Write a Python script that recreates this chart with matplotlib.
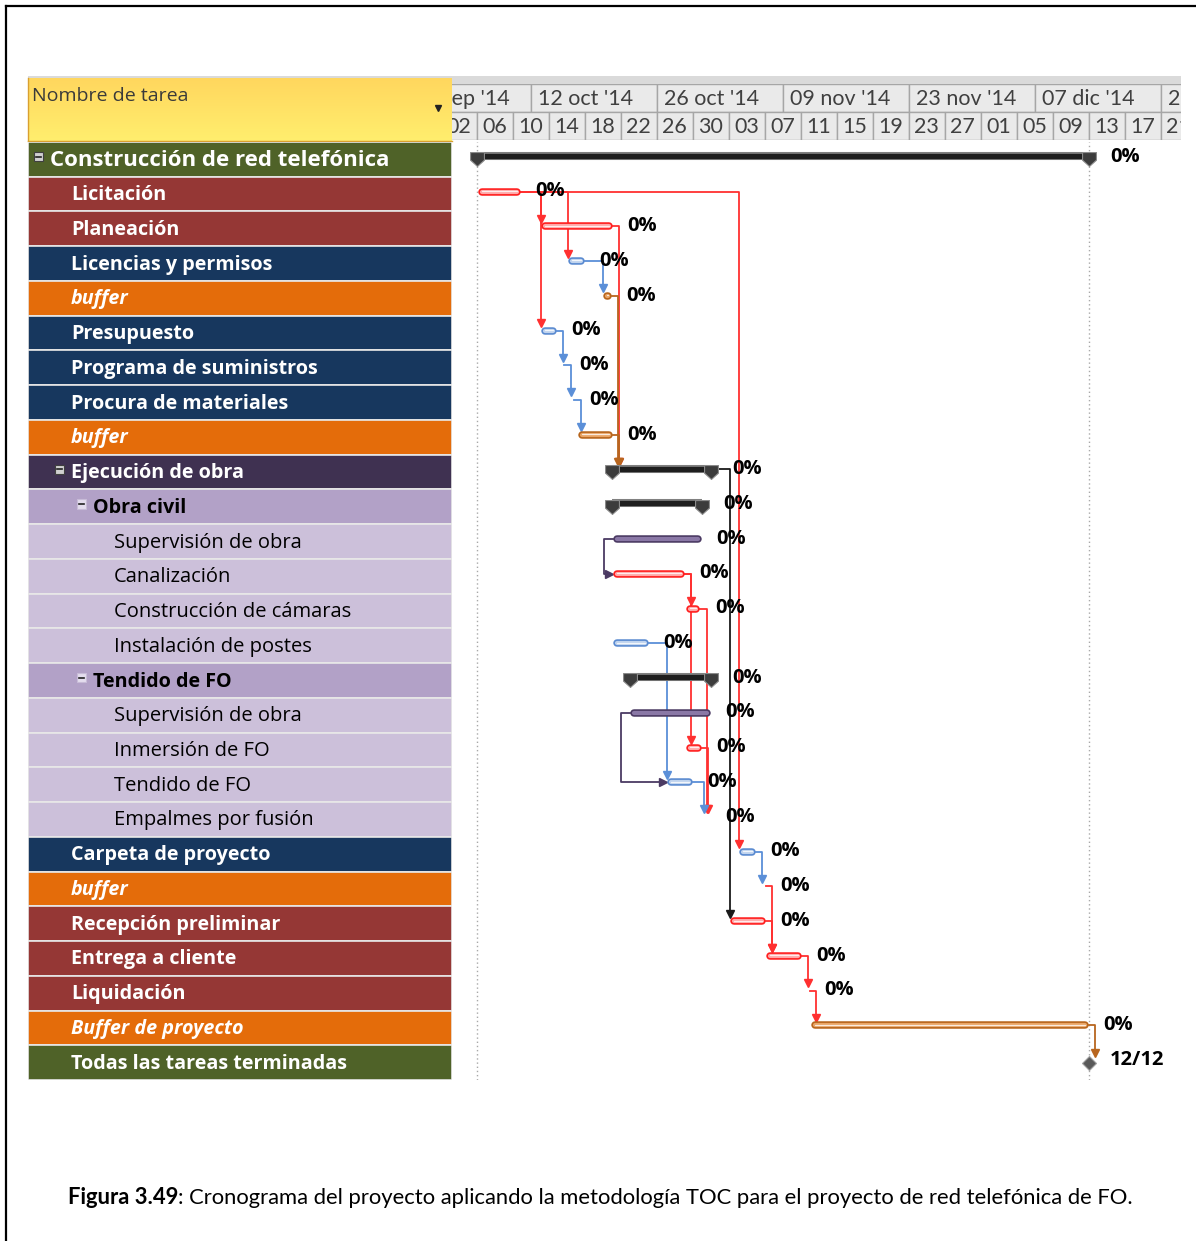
import numpy as np
import matplotlib.pyplot as plt
from matplotlib.patches import Rectangle
from matplotlib.colors import LinearSegmentedColormap

W, H = 1196, 1241

# ---- task table ----
tasks = ["Construcción de red telefónica", "Licitación", "Planeación",
         "Licencias y permisos", "buffer", "Presupuesto",
         "Programa de suministros", "Procura de materiales", "buffer",
         "Ejecución de obra", "Obra civil", "Supervisión de obra",
         "Canalización", "Construcción de cámaras", "Instalación de postes",
         "Tendido de FO", "Supervisión de obra", "Inmersión de FO",
         "Tendido de FO", "Empalmes por fusión", "Carpeta de proyecto",
         "buffer", "Recepción preliminar", "Entrega a cliente", "Liquidación",
         "Buffer de proyecto", "Todas las tareas terminadas"]
levels = [0, 1, 1, 1, 1, 1, 1, 1, 1, 1, 2, 3, 3, 3, 3, 2, 3, 3, 3, 3,
          1, 1, 1, 1, 1, 1, 1]
row_style = ['green', 'red', 'red', 'navy', 'orange', 'navy', 'navy', 'navy',
             'orange', 'plum', 'lilac', 'pale', 'pale', 'pale', 'pale', 'lilac',
             'pale', 'pale', 'pale', 'pale', 'navy', 'orange', 'red', 'red',
             'red', 'orange', 'green']
# S summary, C critical, N normal, B buffer, P supervision, M milestone
bar_type = ['S', 'C', 'C', 'N', 'B', 'N', 'N', 'N', 'B', 'S', 'S', 'P', 'C',
            'C', 'N', 'S', 'P', 'C', 'N', 'C', 'N', 'C', 'C', 'C', 'C', 'B', 'M']

# days counted from Mon 06 oct '14
start = [0.0, 0.1, 7.1, 10.1, 14.0, 7.1, 9.0, 10.1, 11.2, 15.0, 15.0, 15.1,
         15.1, 23.2, 15.1, 17.0, 17.0, 23.2, 21.1, 25.2, 29.1, 31.3, 28.1,
         32.1, 36.2, 37.1, 68.0]
finish = [68.0, 4.9, 15.1, 12.0, 15.0, 8.9, 9.7, 10.8, 15.1, 26.0, 25.0, 25.0,
          23.1, 24.8, 19.1, 26.0, 26.0, 25.0, 24.0, 26.0, 31.0, 32.1, 32.1,
          36.1, 37.0, 68.0, 68.0]
pct = [0, 0, 0, 0, 0, 0, 0, 0, 0, 0, 0, 0, 0, 0, 0, 0, 0, 0, 0, 0, 0, 0, 0,
       0, 0, 0, 0]
finish_label = "12/12"

# (predecessor, successor, type)
links = [(1, 2, 'FS'), (1, 3, 'FS'), (1, 5, 'FS'), (1, 20, 'FS'), (2, 9, 'FS'),
         (3, 4, 'FS'), (5, 6, 'FS'), (6, 7, 'FS'), (7, 8, 'FS'), (4, 9, 'FS'),
         (8, 9, 'FS'), (9, 22, 'FS'), (11, 12, 'SS'), (12, 13, 'FS'),
         (12, 17, 'FS'), (13, 19, 'FS'), (14, 18, 'FS'), (16, 18, 'SS'),
         (17, 19, 'FS'), (18, 19, 'FS'), (20, 21, 'FS'), (21, 23, 'FS'),
         (22, 23, 'FS'), (23, 24, 'FS'), (24, 25, 'FS'), (25, 26, 'FS')]

# timescale
week_labels = ["28 sep '14", "12 oct '14", "26 oct '14", "09 nov '14",
               "23 nov '14", "07 dic '14", "21 dic '14"]
week_first = -8
day_labels = ["02", "06", "10", "14", "18", "22", "26", "30", "03", "07", "11",
              "15", "19", "23", "27", "01", "05", "09", "13", "17", "21"]
day_first = -4

row_colors = {'green': '#4F6228', 'red': '#953735', 'navy': '#17375E',
              'orange': '#E46C0A', 'plum': '#3F3151', 'lilac': '#B2A1C7',
              'pale': '#CCC0DA'}
bar_edge = {'C': '#FF1F1F', 'N': '#5A8AD0', 'B': '#B7651C', 'P': '#4B3A63'}
bar_face = {'C': '#FFA8A8', 'N': '#BFD3EE', 'B': '#E9A566', 'P': '#8A78A6'}
link_color = {'C': '#FF3030', 'N': '#5B8FD8', 'B': '#B8661F', 'S': '#1A1A1A',
              'P': '#4B3A63'}

FONT = 'Open Sans'
fig = plt.figure(figsize=(W / 100, H / 100), dpi=100)


def px_box(x0, y0, x1, y1):
    return [x0 / W, 1 - y1 / H, (x1 - x0) / W, (y1 - y0) / H]


# ---- background / page ----
bg = fig.add_axes([0, 0, 1, 1])
bg.set_xlim(0, W)
bg.set_ylim(H, 0)
bg.axis('off')
bg.plot([6, 6], [H + 5, 6], color='black', lw=1.6)
bg.plot([6, W + 5], [6, 6], color='black', lw=1.6)
bg.add_patch(Rectangle((28, 76), 1153, 8, fc='#DADADA', ec='none'))
grad = np.linspace(0, 1, 64).reshape(-1, 1)
bg.imshow(grad, extent=(28, 452, 141, 78),
          cmap=LinearSegmentedColormap.from_list('yl', ['#FFD75E', '#FFEE6E']),
          aspect='auto', zorder=1)
bg.plot([28, 452], [141, 141], color='#D9A030', lw=1)
bg.plot([28, 28], [78, 141], color='#D9A030', lw=1)
bg.text(32, 96, "Nombre de tarea", fontsize=14, family=FONT, color='#3A3A3A',
        va='center', ha='left', zorder=2)
bg.plot([438], [108], marker='v', ms=5, color='#222222', zorder=2)

# caption
rend = fig.canvas.get_renderer()
t1 = bg.text(68, 1198, "Figura 3.49", fontsize=15.8, family='Lato',
             weight='bold', va='center', ha='left')
bb = t1.get_window_extent(renderer=rend)
bg.text(bb.x1 / fig.dpi / fig.get_figwidth() * W, 1198,
        ": Cronograma del proyecto aplicando la metodología TOC para el proyecto de red telefónica de FO.",
        fontsize=15.8, family='Lato', va='center', ha='left')

n = len(tasks)

# ---- task name table ----
tab = fig.add_axes(px_box(28, 142, 452, 1080))
tab.set_xlim(28, 452)
tab.set_ylim(n - 0.5, -0.5)
tab.axis('off')
text_x = {0: 50, 1: 71, 2: 93, 3: 114}
for i, name in enumerate(tasks):
    st = row_style[i]
    tab.add_patch(Rectangle((28, i - 0.5), 424, 1, fc=row_colors[st],
                            ec='#E8E8E8', lw=1.2))
    dark = st in ('green', 'red', 'navy', 'orange', 'plum')
    color = 'white' if dark else 'black'
    weight = 'normal' if st == 'pale' else 'bold'
    style = 'italic' if st == 'orange' else 'normal'
    if levels[i] == 0:
        size = 16
    elif st == 'pale':
        size = 14.5
    else:
        size = 14.2
    tab.text(text_x[levels[i]], i + 0.03, name, color=color, fontsize=size,
             weight=weight, style=style, family=FONT, va='center', ha='left')
    if bar_type[i] == 'S':
        bx = text_x[levels[i]] - 16
        tab.add_patch(Rectangle((bx, i - 0.21), 9, 0.26,
                                fc='#D0D0D0' if levels[i] < 2 else '#E4DDEE',
                                ec='#404040' if levels[i] < 2 else '#C8BCD8',
                                lw=0.8))
        tab.plot([bx + 2, bx + 7], [i - 0.08, i - 0.08], color='#222222', lw=1.2)

# ---- gantt ----
gx = fig.add_axes(px_box(452, 142, 1181, 1080))
gx.set_xlim(-25 / 9, 704 / 9)
gx.set_ylim(n - 0.5, -0.5)
gx.axis('off')
ppd = 729 / (gx.get_xlim()[1] - gx.get_xlim()[0])  # pixels per day

gx.axvline(0, color='#A8A8A8', ls=(0, (1, 2)), lw=1, zorder=0)
gx.axvline(finish[0], color='#A8A8A8', ls=(0, (1, 2)), lw=1, zorder=0)

BAR_OFF = -0.07
outer_lw, inner_lw = 5.4, 3.0
cap = outer_lw / 2 * 100 / 72 / ppd
cap_marker = [(-1, 1), (1, 1), (1, -0.1), (0, -1), (-1, -0.1), (-1, 1)]

for i in range(n):
    t = bar_type[i]
    s, f = start[i], finish[i]
    if t == 'S':
        y = i - 0.1
        gx.plot([s, f], [y, y], color='#808080', lw=5.8, solid_capstyle='butt', zorder=3)
        gx.plot([s, f], [y, y], color='#1E1E1E', lw=3.8, solid_capstyle='butt', zorder=3)
        gx.plot([s, f], [i, i], ls='none', marker=cap_marker, ms=10,
                mfc='#3C3C3C', mec='#8A8A8A', mew=0.8, zorder=4)
        dx = 15
    elif t == 'M':
        gx.plot([s], [i], marker='D', ms=7.5, mfc='#5A5A5A', mec='#A0A0A0',
                mew=0.8, zorder=4)
        dx = 15
    else:
        xs, xe = s + cap, f - cap
        if xe < xs:
            xs = xe = (s + f) / 2
        y = i + BAR_OFF
        gx.plot([xs, xe], [y, y], color=bar_edge[t], lw=outer_lw,
                solid_capstyle='round', zorder=3)
        gx.plot([xs, xe], [y, y], color=bar_face[t], lw=inner_lw,
                solid_capstyle='round', zorder=3)
        if t != 'P':
            gx.plot([xs, xe], [y - 0.02, y - 0.02], color='white', lw=0.9,
                    alpha=0.8, solid_capstyle='round', zorder=3)
        dx = 10.5
    label = finish_label if t == 'M' else f"{pct[i]}%"
    gx.annotate(label, (f, i), xytext=(dx, 2), textcoords='offset points',
                fontsize=14.5, weight='bold', family=FONT, va='center',
                ha='left', zorder=5)

# dependency links
for p, q, kind in links:
    c = link_color[bar_type[p]]
    yp = p - 0.1 if bar_type[p] == 'S' else p + BAR_OFF
    if kind == 'FS':
        xc = max(start[q], finish[p] + 0.7)
        ytip = q - 0.29
        gx.plot([finish[p], xc, xc], [yp, yp, ytip], color=c, lw=1.3, zorder=2)
        gx.plot([xc], [ytip], marker='v', ms=6, color=c, zorder=2)
    else:
        xl = min(start[p], start[q]) - 1.0
        yq = q + BAR_OFF
        gx.plot([start[p], xl, xl, start[q] - 0.4], [yp, yp, yq, yq],
                color=c, lw=1.3, zorder=2)
        gx.plot([start[q] - 0.4], [yq], marker='>', ms=6, color=c, zorder=2)

# ---- timescale header ----
ts = fig.add_axes(px_box(452, 84, 1181, 140))
ts.set_xlim(gx.get_xlim())
ts.set_ylim(2, 0)
ts.axis('off')
for k, lab in enumerate(week_labels):
    d = week_first + 14 * k
    ts.add_patch(Rectangle((d, 0), 14, 1, fc='#EAEAEA', ec='#A6A6A6', lw=1))
    ts.text(d + 7 / ppd, 0.52, lab, fontsize=15.5, family='Lato', color='#404040',
            va='center', ha='left', clip_on=True)
for k, lab in enumerate(day_labels):
    d = day_first + 4 * k
    ts.add_patch(Rectangle((d, 1), 4, 1, fc='#EAEAEA', ec='#A6A6A6', lw=1))
    ts.text(d + 5 / ppd, 1.52, lab, fontsize=15.5, family='Lato', color='#404040',
            va='center', ha='left', clip_on=True)

fig.savefig('out.png', dpi=100)
